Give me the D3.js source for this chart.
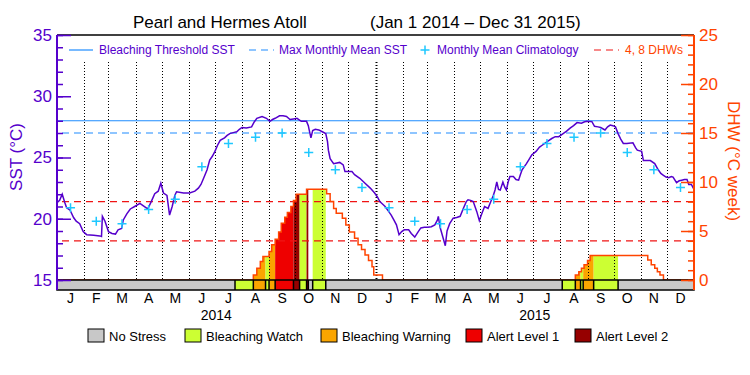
<!DOCTYPE html>
<html>
<head>
<meta charset="utf-8">
<script src="https://cdn.jsdelivr.net/npm/d3@7"></script>
<style>
body { margin: 0; background: #fff; }
svg text { font-family: "Liberation Sans", Arial, sans-serif; }
</style>
</head>
<body>
<div id="chart"></div>
<script>
// daily SST trace, day numbers counted from Jan 1 2014
const sstDays = [0, 3, 6, 9, 11, 15, 19, 22, 26, 30, 34, 42, 49, 51, 52, 55, 59, 63, 67, 70, 74, 76, 80, 84, 89, 95, 99, 104, 108, 112, 116, 119, 122, 126, 129, 132, 135, 137, 145, 152, 158, 162, 165, 168, 172, 175, 178, 181, 184, 187, 192, 195, 198, 203, 206, 209, 212, 217, 223, 226, 229, 235, 240, 244, 247, 250, 255, 259, 263, 267, 271, 275, 280, 286, 288, 289, 291, 293, 296, 300, 304, 308, 310, 311, 313, 317, 324, 328, 330, 338, 341, 347, 353, 359, 364,
  367, 370, 373, 376, 380, 383, 386, 389, 392, 395, 398, 403, 406, 410, 414, 417, 421, 425, 429, 433, 436, 437, 439, 442, 445, 447, 450, 454, 458, 462, 466, 469, 471, 474, 477, 479, 481, 484, 487, 490, 494, 496, 498, 500, 502, 504, 506, 508, 511, 513, 515, 517, 519, 523, 526, 529, 531, 533, 538, 541, 544, 549, 553, 556, 559, 563, 567, 571, 575, 580, 584, 588, 592, 596, 601, 604, 607, 613, 616, 620, 623, 628, 631, 634, 637, 640, 643, 646, 649, 653, 660, 663, 665, 670, 672, 680, 685, 689, 692, 695, 698, 701, 704, 706, 710, 713, 716, 719, 722, 724, 727, 730];
const sstValues = [21.3, 21.5, 22.0, 21.3, 20.9, 20.7, 20.1, 19.8, 19.6, 18.95, 18.7, 18.65, 18.6, 18.55, 20.2, 19.8, 18.95, 18.8, 18.75, 19.1, 19.2, 19.9, 20.4, 20.8, 21.0, 21.25, 21.05, 20.8, 21.4, 22.05, 22.25, 22.9, 22.1, 21.9, 20.3, 21.0, 21.9, 22.2, 22.1, 22.1, 22.25, 22.5, 22.8, 23.3, 24.0, 24.8, 25.1, 25.5, 26.0, 26.4, 26.6, 26.8, 26.95, 27.05, 27.1, 27.3, 27.45, 27.4, 27.5, 27.9, 28.2, 28.35, 28.2, 27.95, 28.1, 28.2, 28.4, 28.4, 28.35, 28.1, 28.15, 28.2, 27.95, 27.95, 27.6, 27.25, 26.6, 27.2, 27.3, 27.25, 27.1, 26.95, 26.3, 25.6, 24.9, 24.5, 24.6, 24.4, 23.85, 23.85, 23.6, 23.3, 22.9, 22.5, 22.1,
  21.8, 21.4, 21.2, 21.0, 20.6, 20.3, 19.9, 19.5, 18.7, 18.95, 19.1, 19.1, 18.8, 18.5, 18.95, 19.25, 19.3, 19.3, 19.35, 19.5, 19.9, 20.2, 19.3, 18.55, 17.8, 19.0, 19.6, 20.05, 20.1, 20.2, 20.9, 21.4, 21.55, 21.5, 21.4, 21.0, 20.6, 19.85, 20.45, 21.0, 20.85, 21.2, 21.55, 21.9, 22.35, 23.0, 22.4, 22.35, 23.0, 22.6, 22.35, 23.0, 23.45, 23.45, 23.2, 23.15, 23.6, 24.0, 24.5, 24.85, 25.2, 25.5, 25.85, 26.0, 26.15, 26.35, 26.55, 26.7, 26.7, 26.95, 27.15, 27.4, 27.6, 27.85, 27.8, 27.9, 27.95, 27.93, 27.55, 27.5, 27.45, 27.25, 27.5, 27.65, 27.6, 27.5, 26.95, 26.5, 26.15, 26.15, 26.2, 25.8, 25.6, 25.5, 24.75, 24.75, 24.5, 24.0, 23.7, 23.55, 23.4, 23.35, 23.45, 23.4, 22.95, 23.1, 23.15, 23.2, 23.2, 22.8, 22.8, 22.4];

// degree heating weeks, step values
const dhwDays = [0, 225, 229, 233, 236, 243, 246, 250, 254, 257, 261, 264, 268, 271, 274, 286, 309, 313, 317, 320, 327, 331, 335, 341, 345, 349, 353, 357, 361, 363, 373, 594, 598, 601, 604, 608, 611, 677, 681, 685, 688, 691, 695, 730];
const dhwValues = [0, 0.5, 1.2, 1.9, 2.4, 2.9, 3.6, 4.15, 4.9, 5.8, 6.4, 6.9, 7.5, 8.1, 8.75, 9.25, 8.8, 8.0, 7.3, 6.8, 6.3, 5.6, 4.9, 4.25, 3.6, 3.1, 2.55, 2.0, 1.35, 0.5, 0, 0.5, 0.85, 1.2, 1.55, 2.0, 2.5, 2.05, 1.55, 1.2, 0.85, 0.5, 0, 0];

// stress level periods: 0 none, 1 watch, 2 warning, 3 alert 1, 4 alert 2
const stressStart = [0, 204, 225, 239, 243, 250, 271, 278, 286, 288, 293, 308, 579, 594, 600, 603, 615, 643];
const stressLevel = [0, 1, 2, 1, 2, 3, 4, 1, 4, 0, 1, 0, 1, 2, 1, 2, 1, 0];

const climValues = [20.9, 19.8, 19.6, 20.75, 21.6, 24.25, 26.15, 26.65, 27.0, 25.4, 24.0, 22.55];
const mmm = 27.0;
const bleachThreshold = 28.0;
const dhwLevels = [4, 8];

const monthLabels = ["J", "F", "M", "A", "M", "J", "J", "A", "S", "O", "N", "D"];
const years = [2014, 2015];
const sstTicks = [15, 20, 25, 30, 35];
const dhwTicks = [0, 5, 10, 15, 20, 25];
const stressNames = ["No Stress", "Bleaching Watch", "Bleaching Warning", "Alert Level 1", "Alert Level 2"];
const stressColors = ["#c8c8c8", "#ccff33", "#faa500", "#ee0000", "#960000"];

const purple = "#5500cc";
const orange = "#ff4400";

const t0 = Date.UTC(2014, 0, 1);
const toDate = d => new Date(t0 + d * 864e5);

const plotLeft = 57, plotRight = 694, plotTop = 35, plotBase = 280;

const x = d3.scaleUtc().domain([toDate(0), toDate(730)]).range([plotLeft, plotRight]);
const ySst = d3.scaleLinear().domain([15, 35]).range([plotBase, plotTop]);
const yDhw = d3.scaleLinear().domain([0, 25]).range([plotBase, plotTop]);

const svg = d3.select("#chart").append("svg")
    .attr("width", 750)
    .attr("height", 375);

// title
svg.append("text").attr("x", 133).attr("y", 28).attr("font-size", 17).text("Pearl and Hermes Atoll");
svg.append("text").attr("x", 370).attr("y", 28).attr("font-size", 17).text("(Jan 1 2014 \u2013 Dec 31 2015)");

const dhw = dhwDays.map((d, i) => ({ day: d, v: dhwValues[i] }));
const segs = stressStart.map((s, i) => ({
    start: s,
    end: i < stressStart.length - 1 ? stressStart[i + 1] : 730,
    level: stressLevel[i]
}));

// area under DHW, coloured by stress level
const dhwArea = d3.area()
    .curve(d3.curveStepAfter)
    .x(d => x(toDate(d.day)))
    .y0(yDhw(0))
    .y1(d => yDhw(d.v));

segs.forEach((s, i) => {
    if (s.level === 0) return;
    const id = "clip" + i;
    svg.append("clipPath").attr("id", id).append("rect")
        .attr("x", x(toDate(s.start)))
        .attr("width", x(toDate(s.end)) - x(toDate(s.start)))
        .attr("y", plotTop)
        .attr("height", plotBase - plotTop);
    svg.append("path")
        .datum(dhw)
        .attr("clip-path", `url(#${id})`)
        .attr("fill", stressColors[s.level])
        .attr("d", dhwArea);
});

// dotted month lines
const monthStarts = d3.utcMonth.range(toDate(1), toDate(730));
svg.selectAll(".mline")
    .data(monthStarts)
    .join("line")
    .attr("x1", d => Math.round(x(d)) + 0.5)
    .attr("x2", d => Math.round(x(d)) + 0.5)
    .attr("y1", 62)
    .attr("y2", plotBase)
    .attr("stroke", "#000")
    .attr("stroke-width", d => d.getUTCMonth() === 0 ? 2 : 1)
    .attr("stroke-dasharray", "1,2");

// threshold lines
svg.append("line")
    .attr("x1", plotLeft).attr("x2", plotRight)
    .attr("y1", ySst(bleachThreshold)).attr("y2", ySst(bleachThreshold))
    .attr("stroke", "#1e8cff").attr("stroke-width", 1.2);
svg.append("line")
    .attr("x1", plotLeft + 5).attr("x2", plotRight)
    .attr("y1", ySst(mmm)).attr("y2", ySst(mmm))
    .attr("stroke", "#1e8cff").attr("stroke-width", 1.2)
    .attr("stroke-dasharray", "7,5");
svg.selectAll(".dhwlvl")
    .data(dhwLevels)
    .join("line")
    .attr("x1", plotLeft + 5).attr("x2", plotRight)
    .attr("y1", d => yDhw(d)).attr("y2", d => yDhw(d))
    .attr("stroke", "#f01414").attr("stroke-width", 1.2)
    .attr("stroke-dasharray", "7,5");

// DHW line
svg.append("path")
    .datum(dhw)
    .attr("fill", "none")
    .attr("stroke", orange)
    .attr("stroke-width", 1.5)
    .attr("d", d3.line().curve(d3.curveStepAfter).x(d => x(toDate(d.day))).y(d => yDhw(d.v)));

// SST line
const sst = sstDays.map((d, i) => ({ day: d, v: sstValues[i] }));
svg.append("path")
    .datum(sst)
    .attr("fill", "none")
    .attr("stroke", purple)
    .attr("stroke-width", 1.5)
    .attr("d", d3.line().x(d => x(toDate(d.day))).y(d => ySst(d.v)));

// monthly mean climatology crosses
const clim = [];
years.forEach(yr => {
    climValues.forEach((v, m) => {
        const a = Date.UTC(yr, m, 1), b = Date.UTC(yr, m + 1, 1);
        clim.push({ date: new Date((a + b) / 2), v: v });
    });
});
svg.selectAll(".clim")
    .data(clim)
    .join("path")
    .attr("transform", d => `translate(${x(d.date)},${ySst(d.v)})`)
    .attr("d", "M-4.5,0H4.5M0,-4.5V4.5")
    .attr("stroke", "#1ec8ff")
    .attr("stroke-width", 1.5);

// stress bar
svg.selectAll(".seg")
    .data(segs)
    .join("rect")
    .attr("x", d => x(toDate(d.start)))
    .attr("width", d => x(toDate(d.end)) - x(toDate(d.start)))
    .attr("y", plotBase)
    .attr("height", 10)
    .attr("fill", d => stressColors[d.level]);
svg.selectAll(".sep")
    .data(segs.slice(1))
    .join("line")
    .attr("x1", d => x(toDate(d.start)))
    .attr("x2", d => x(toDate(d.start)))
    .attr("y1", plotBase)
    .attr("y2", plotBase + 10)
    .attr("stroke", "#000")
    .attr("stroke-width", 1.5);
svg.append("rect")
    .attr("x", plotLeft).attr("y", plotBase)
    .attr("width", plotRight - plotLeft).attr("height", 10)
    .attr("fill", "none").attr("stroke", "#000").attr("stroke-width", 1.5);

// top border
svg.append("line")
    .attr("x1", plotLeft).attr("x2", plotRight)
    .attr("y1", plotTop).attr("y2", plotTop)
    .attr("stroke", "#000").attr("stroke-width", 1.5);

// left axis (SST)
const gl = svg.append("g").attr("transform", `translate(${plotLeft},0)`);
gl.append("g").call(d3.axisLeft(ySst).ticks(20).tickSize(-6).tickFormat(""));
gl.append("g").call(d3.axisLeft(ySst).tickValues(sstTicks).tickSize(-14).tickPadding(5).tickFormat(d3.format("d")));
gl.selectAll(".domain").remove();
gl.selectAll("line").attr("stroke", purple).attr("stroke-width", 1.5);
gl.selectAll("text").attr("fill", purple).attr("font-size", 17)
    .attr("font-family", "Liberation Sans, Arial, sans-serif");
gl.append("line").attr("y1", plotTop).attr("y2", plotBase + 10).attr("stroke", purple).attr("stroke-width", 2);

// right axis (DHW)
const gr = svg.append("g").attr("transform", `translate(${plotRight},0)`);
gr.append("g").call(d3.axisRight(yDhw).ticks(25).tickSize(-6).tickFormat(""));
gr.append("g").call(d3.axisRight(yDhw).tickValues(dhwTicks).tickSize(-13).tickPadding(5).tickFormat(d3.format("d")));
gr.selectAll(".domain").remove();
gr.selectAll("line").attr("stroke", orange).attr("stroke-width", 1.5);
gr.selectAll("text").attr("fill", orange).attr("font-size", 17)
    .attr("font-family", "Liberation Sans, Arial, sans-serif");
gr.append("line").attr("y1", plotTop).attr("y2", plotBase + 10).attr("stroke", orange).attr("stroke-width", 2);

// axis titles
svg.append("text")
    .attr("transform", "translate(22,157) rotate(-90)")
    .attr("text-anchor", "middle")
    .attr("font-size", 17)
    .attr("fill", purple)
    .text("SST (\u00b0C)");
svg.append("text")
    .attr("transform", "translate(728,161) rotate(90)")
    .attr("text-anchor", "middle")
    .attr("font-size", 17)
    .attr("fill", orange)
    .text("DHW (\u00b0C week)");

// month and year labels
const allMonths = d3.utcMonth.range(toDate(0), toDate(730));
svg.selectAll(".mlab")
    .data(allMonths)
    .join("text")
    .attr("x", d => x(new Date((d.getTime() + d3.utcMonth.offset(d, 1).getTime()) / 2)))
    .attr("y", 303)
    .attr("text-anchor", "middle")
    .attr("font-size", 14)
    .text(d => monthLabels[d.getUTCMonth()]);
svg.selectAll(".ylab")
    .data(years)
    .join("text")
    .attr("x", d => x(new Date((Date.UTC(d, 0, 1) + Date.UTC(d + 1, 0, 1)) / 2)))
    .attr("y", 320)
    .attr("text-anchor", "middle")
    .attr("font-size", 14)
    .text(d => d);

// top legend
const lg = svg.append("g").attr("font-size", 12);
lg.append("line").attr("x1", 69).attr("x2", 93).attr("y1", 50).attr("y2", 50)
    .attr("stroke", "#1e8cff").attr("stroke-width", 1.2);
lg.append("text").attr("x", 99).attr("y", 54).attr("fill", purple).text("Bleaching Threshold SST");
lg.append("line").attr("x1", 249).attr("x2", 274).attr("y1", 50).attr("y2", 50)
    .attr("stroke", "#1e8cff").attr("stroke-width", 1.2).attr("stroke-dasharray", "7,5");
lg.append("text").attr("x", 279).attr("y", 54).attr("fill", purple).text("Max Monthly Mean SST");
lg.append("path").attr("transform", "translate(425,50)").attr("d", "M-4.5,0H4.5M0,-4.5V4.5")
    .attr("stroke", "#1ec8ff").attr("stroke-width", 1.5);
lg.append("text").attr("x", 437).attr("y", 54).attr("fill", purple).text("Monthly Mean Climatology");
lg.append("line").attr("x1", 594).attr("x2", 619).attr("y1", 50).attr("y2", 50)
    .attr("stroke", "#f01414").attr("stroke-width", 1.2).attr("stroke-dasharray", "7,5");
lg.append("text").attr("x", 625).attr("y", 54).attr("fill", orange).text("4, 8 DHWs");

// stress legend
const legX = [88, 185, 321, 466, 575];
const sl = svg.selectAll(".sleg")
    .data(stressNames)
    .join("g")
    .attr("transform", (d, i) => `translate(${legX[i]},329)`);
sl.append("rect")
    .attr("width", 16).attr("height", 13)
    .attr("fill", (d, i) => stressColors[i])
    .attr("stroke", "#000").attr("stroke-width", 1);
sl.append("text")
    .attr("x", 21).attr("y", 12)
    .attr("font-size", 13)
    .text(d => d);
</script>
</body>
</html>
